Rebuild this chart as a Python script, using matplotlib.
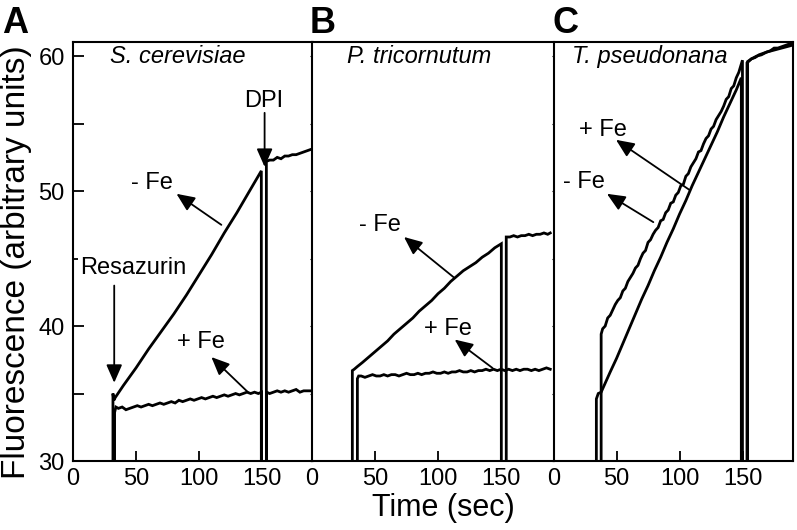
import matplotlib
matplotlib.use("Agg")
import matplotlib.pyplot as plt

plt.rcParams['font.family'] = ['Liberation Sans', 'DejaVu Sans']

# ---------------- data ----------------
A_minus_t = [31.7, 31.7, 32.4, 33.5, 40, 50, 60, 70, 80, 90,
             100, 110, 120, 130, 140, 149.4, 149.4, 153.4, 153.4, 156,
             159, 162, 165, 168, 171, 174, 177, 180, 183, 186,
             189]
A_minus_v = [25, 35.0, 34.5, 34.7, 35.6, 36.9, 38.3, 39.6, 40.9, 42.3,
             43.8, 45.3, 46.9, 48.4, 50.0, 51.5, 25, 25, 52.2, 52.3,
             52.3, 52.5, 52.4, 52.6, 52.6, 52.7, 52.7, 52.8, 52.9, 53.0,
             53.1]

A_plus_t = [33.0, 33.0, 34.0, 36, 39, 42, 45, 48, 51, 54,
            57, 60, 63, 66, 69, 72, 75, 78, 81, 84,
            87, 90, 93, 96, 99, 102, 105, 108, 111, 114,
            117, 120, 123, 126, 129, 132, 135, 138, 141, 144,
            147, 149.6, 149.6, 153.6, 153.6, 156, 159, 162, 165, 168,
            171, 174, 177, 180, 183, 186, 189]
A_plus_v = [25, 33.6, 34.0, 33.9, 34.0, 33.8, 33.9, 34.0, 34.1, 34.0,
            34.1, 34.2, 34.1, 34.2, 34.3, 34.2, 34.3, 34.4, 34.3, 34.5,
            34.4, 34.5, 34.6, 34.5, 34.6, 34.7, 34.6, 34.7, 34.8, 34.7,
            34.8, 34.9, 34.8, 34.9, 35.0, 34.9, 35.0, 35.1, 35.0, 35.1,
            35.0, 35.1, 25, 25, 35.1, 35.0, 35.1, 35.2, 35.1, 35.2,
            35.1, 35.2, 35.3, 35.1, 35.2, 35.2, 35.2]

B_minus_t = [32.0, 32.0, 33.5, 36, 40, 45, 50, 55, 60, 65,
             70, 75, 80, 85, 90, 95, 100, 105, 110, 115,
             120, 125, 130, 135, 140, 145, 150.2, 150.2, 154.1, 154.1,
             157, 160, 163, 166, 169, 172, 175, 178, 181, 184,
             187, 189]
B_minus_v = [25, 36.7, 36.8, 37.0, 37.3, 37.7, 38.1, 38.5, 38.9, 39.4,
             39.8, 40.2, 40.6, 41.1, 41.5, 41.9, 42.4, 42.8, 43.3, 43.7,
             44.1, 44.4, 44.7, 45.1, 45.4, 45.8, 46.1, 25, 25, 46.6,
             46.6, 46.7, 46.6, 46.7, 46.7, 46.8, 46.7, 46.8, 46.8, 46.9,
             46.8, 46.9]

B_plus_t = [36.0, 36.0, 37.0, 39, 42, 45, 48, 51, 54, 57,
            60, 63, 66, 69, 72, 75, 78, 81, 84, 87,
            90, 93, 96, 99, 102, 105, 108, 111, 114, 117,
            120, 123, 126, 129, 132, 135, 138, 141, 144, 147,
            150, 153, 156, 159, 162, 165, 168, 171, 174, 177,
            180, 183, 186, 189]
B_plus_v = [25, 36.1, 36.3, 36.3, 36.2, 36.3, 36.4, 36.3, 36.3, 36.4,
            36.3, 36.4, 36.4, 36.3, 36.4, 36.5, 36.4, 36.4, 36.5, 36.4,
            36.5, 36.5, 36.6, 36.5, 36.5, 36.6, 36.5, 36.6, 36.6, 36.7,
            36.6, 36.6, 36.7, 36.6, 36.7, 36.7, 36.8, 36.7, 36.8, 36.7,
            36.8, 36.7, 36.8, 36.7, 36.8, 36.7, 36.8, 36.8, 36.7, 36.8,
            36.7, 36.8, 36.9, 36.8]

C_plus_t = [34.0, 34.0, 35.5, 37.8, 45, 50, 55, 60, 65, 70,
            75, 80, 85, 90, 95, 100, 105, 110, 115, 120,
            125, 130, 135, 140, 145, 149.0, 149.0, 153.5, 153.5, 157,
            161, 165, 169, 173, 177, 181, 185, 189]
C_plus_v = [25, 34.6, 35.0, 35.1, 36.6, 37.6, 38.7, 39.8, 40.9, 42.0,
            43.0, 44.1, 45.1, 46.2, 47.2, 48.3, 49.3, 50.4, 51.4, 52.4,
            53.4, 54.4, 55.5, 56.5, 57.5, 58.4, 25, 25, 59.5, 59.8,
            60.0, 60.1, 60.3, 60.4, 60.5, 60.6, 60.7, 60.8]

C_minus_t = [37.8, 37.8, 39, 41, 43, 45, 47, 49, 51, 53,
             55, 57, 59, 61, 63, 65, 67, 69, 71, 73,
             75, 77, 79, 81, 83, 85, 87, 89, 91, 93,
             95, 97, 99, 101, 103, 105, 107, 109, 111, 113,
             115, 117, 119, 121, 123, 125, 127, 129, 131, 133,
             135, 137, 139, 141, 143, 145, 147, 149.9, 149.9, 154.0,
             154.0, 157, 160, 163, 166, 169, 172, 175, 178, 181,
             184, 187, 189]
C_minus_v = [25, 39.4, 39.8, 40.0, 40.6, 40.8, 41.2, 41.6, 41.9, 42.1,
             42.6, 42.8, 43.3, 43.6, 43.9, 44.3, 44.5, 45.0, 45.4, 45.6,
             46.2, 46.4, 46.8, 47.1, 47.3, 47.8, 47.9, 48.4, 48.6, 49.1,
             49.2, 49.7, 49.9, 50.4, 50.5, 51.1, 51.3, 51.8, 52.1, 52.4,
             52.9, 53.0, 53.5, 53.9, 54.1, 54.6, 54.8, 55.3, 55.6, 55.9,
             56.3, 56.8, 57.0, 57.6, 57.8, 58.4, 58.8, 59.7, 25, 25,
             59.6, 59.8, 59.9, 60.1, 60.2, 60.3, 60.4, 60.6, 60.6, 60.7,
             60.8, 60.9, 60.9]

panel_letters = ['A', 'B', 'C']
panel_titles = ['S. cerevisiae', 'P. tricornutum', 'T. pseudonana']
x_ticks = [0, 50, 100, 150]
y_ticks = [30, 35, 40, 45, 50, 55, 60]
y_ticklabels = ['30', '', '40', '', '50', '', '60']
x_label = 'Time (sec)'
y_label = 'Fluorescence (arbitrary units)'

traces = [
    [(A_minus_t, A_minus_v), (A_plus_t, A_plus_v)],
    [(B_minus_t, B_minus_v), (B_plus_t, B_plus_v)],
    [(C_minus_t, C_minus_v), (C_plus_t, C_plus_v)],
]

# ---------------- figure ----------------
W, H = 797, 530
fig = plt.figure(figsize=(W / 100, H / 100), dpi=100)

lefts = [73, 312, 553.5]
pw = 239.5
bottom_px, top_px = 461, 42
title_x = [29.3, 27.7, 14.3]
axes = []
for i, lx in enumerate(lefts):
    ax = fig.add_axes([lx / W, 1 - bottom_px / H, pw / W, (bottom_px - top_px) / H])
    axes.append(ax)
    for t, v in traces[i]:
        ax.plot(t, v, color='black', lw=2.0, solid_joinstyle='miter')
    ax.set_xlim(0, 190)
    ax.set_ylim(30, 61.05)
    ax.set_xticks(x_ticks)
    ax.set_xticklabels([str(x) for x in x_ticks], fontsize=17)
    ax.set_yticks(y_ticks)
    for s in ax.spines.values():
        s.set_linewidth(1.5)
    if i < 2:
        ax.spines['right'].set_visible(False)
    ax.tick_params(axis='x', direction='in', length=7, width=1.3, pad=5)
    if i == 0:
        ax.set_yticklabels(y_ticklabels, fontsize=17)
        ax.tick_params(axis='y', direction='in', length=8, width=1.3, pad=6)
    else:
        ax.set_yticklabels([])
        ax.tick_params(axis='y', direction='out', length=1.5, width=0.8)
    ax.text(title_x[i], 59.5, panel_titles[i],
            fontsize=17, style='italic', ha='left', va='baseline')

# panel letters
for lx, letter in zip([2, 310, 552], panel_letters):
    fig.text(lx / W, 1 - 33 / H, letter, fontsize=26, fontweight='bold',
             ha='left', va='baseline')

# axis labels
fig.text(443 / W, 1 - 516 / H, x_label, fontsize=22, ha='center', va='baseline')
fig.text(17 / W, 1 - 262 / H, y_label, fontsize=24, rotation=90,
         ha='center', va='center')

arrow_kw = dict(arrowstyle='-|>,head_length=0.5,head_width=0.22', color='black',
                lw=1.3, mutation_scale=22, shrinkA=0, shrinkB=0)

def arrow(ax, tail, head):
    ax.annotate('', xy=head, xytext=tail, arrowprops=arrow_kw,
                annotation_clip=False)

axA, axB, axC = axes
# Panel A annotations
axA.text(62.5, 50.6, '- Fe', fontsize=17, ha='center', va='center')
arrow(axA, (117.7, 47.5), (82.1, 49.8))
axA.text(101.3, 38.8, '+ Fe', fontsize=17, ha='center', va='center')
arrow(axA, (138.8, 35.1), (109.8, 37.7))
axA.text(151.2, 56.7, 'DPI', fontsize=17, ha='center', va='center')
arrow(axA, (152.0, 55.8), (152.0, 51.8))
axA.text(5.5, 44.3, 'Resazurin', fontsize=17, ha='left', va='center', zorder=5,
         bbox=dict(boxstyle='square,pad=0.1', fc='white', ec='none'), clip_on=False)
arrow(axA, (32.7, 43.0), (32.7, 35.8))

# Panel B annotations
axB.text(54.0, 47.5, '- Fe', fontsize=17, ha='center', va='center')
arrow(axB, (112.6, 43.6), (73.0, 46.6))
axB.text(107.7, 39.8, '+ Fe', fontsize=17, ha='center', va='center')
arrow(axB, (143.1, 36.9), (113.2, 39.0))

# Panel C annotations
axC.text(39.6, 54.5, '+ Fe', fontsize=17, ha='center', va='center')
arrow(axC, (107.7, 50.1), (49.6, 53.8))
axC.text(24.5, 50.7, '- Fe', fontsize=17, ha='center', va='center')
arrow(axC, (79.2, 47.7), (42.4, 49.8))

fig.savefig('out.png', dpi=100)
